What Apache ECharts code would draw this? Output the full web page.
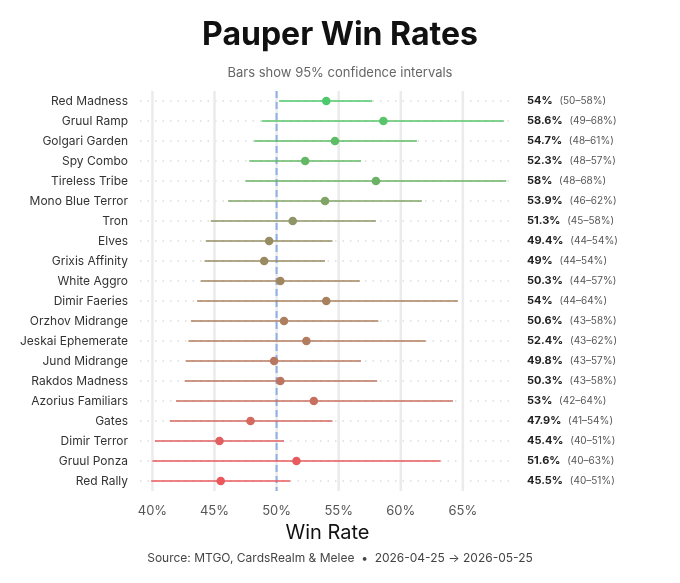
<!DOCTYPE html><html><head><meta charset="utf-8"><script src="https://cdn.jsdelivr.net/npm/echarts@6/dist/echarts.min.js"></script>
<style>html,body{margin:0;padding:0;background:#fff}#c{width:680px;height:583px}</style></head><body><div id="c"></div><script>
const archetypes=["Red Madness","Gruul Ramp","Golgari Garden","Spy Combo","Tireless Tribe","Mono Blue Terror","Tron","Elves","Grixis Affinity","White Aggro","Dimir Faeries","Orzhov Midrange","Jeskai Ephemerate","Jund Midrange","Rakdos Madness","Azorius Familiars","Gates","Dimir Terror","Gruul Ponza","Red Rally"];
const winRate=[54,58.6,54.7,52.3,58,53.9,51.3,49.4,49,50.3,54,50.6,52.4,49.8,50.3,53,47.9,45.4,51.6,45.5];
const ciLow=[50.2,48.8,48.2,47.8,47.5,46.1,44.7,44.3,44.2,43.9,43.6,43.1,42.9,42.7,42.6,41.9,41.4,40.2,40.0,39.9];
const ciHigh=[57.7,68.3,61.3,56.8,68.5,61.7,58.0,54.5,53.9,56.7,64.6,58.2,62.0,56.8,58.1,64.2,54.5,50.6,63.2,51.1];
const ciLabel=["50–58%","49–68%","48–61%","48–57%","48–68%","46–62%","45–58%","44–54%","44–54%","44–57%","44–64%","43–58%","43–62%","43–57%","43–58%","42–64%","41–54%","40–51%","40–63%","40–51%"];
const colors=["#4cc96c","#58c46b","#5dbd67","#63b866","#6ab264","#7fa466","#8f9566","#968d63","#9a8a62","#a2865f","#a8825f","#ad7f5f","#b27c5f","#b8785f","#bd755f","#c8705f","#d4695f","#e05f60","#e65b5e","#ea585c"];
const gridTicks=[40,45,50,55,60,65];
const XMIN=39,XMAX=69.2;
const chart=echarts.init(document.getElementById('c'));
const rightLabels=archetypes.map((a,i)=>'{b|'+winRate[i]+'%}  {n|('+ciLabel[i]+')}');
chart.setOption({
 textStyle:{fontFamily:'Inter'},
 title:[{text:'Pauper Win Rates',left:'center',top:14,textStyle:{fontFamily:'Inter',fontSize:32,fontWeight:'bold',color:'#111'}},
  {text:'Bars show 95% confidence intervals',left:'center',top:62,textStyle:{fontFamily:'Inter',fontSize:13,fontWeight:'normal',color:'#666'}},
  {text:'Source: MTGO, CardsRealm & Melee  •  2026-04-25 → 2026-05-25',left:'center',top:547,textStyle:{fontFamily:'Inter',fontSize:12,fontWeight:'normal',color:'#444'}}],
 grid:{left:140,right:165,top:91,bottom:92},
 xAxis:{type:'value',min:XMIN,max:XMAX,interval:1,splitLine:{show:false},axisLine:{show:false},axisTick:{show:false},
  axisLabel:{color:'#555',fontSize:13,margin:14,formatter:v=>v%5===0&&v<=65?v+'%':''},
  name:'Win Rate',nameLocation:'middle',nameGap:30,nameTextStyle:{fontSize:20,color:'#111'}},
 yAxis:[{type:'category',data:archetypes,inverse:true,axisLine:{show:false},axisTick:{show:false},axisLabel:{color:'#333',fontSize:12,margin:12}},
  {type:'category',data:rightLabels,inverse:true,position:'right',axisLine:{show:false},axisTick:{show:false},
   axisLabel:{align:'left',margin:12,rich:{b:{fontWeight:'bold',fontSize:11,color:'#222'},n:{fontSize:10,color:'#555'}}}}],
 series:[
  {type:'custom',silent:true,data:archetypes.map((a,i)=>[i]),z:1,renderItem:(p,api)=>{
    const i=api.value(0);const a=api.coord([XMIN,i]),b=api.coord([XMAX,i]);
    return {type:'line',shape:{x1:a[0],y1:a[1],x2:b[0],y2:b[1]},style:{stroke:'#c8c8c8',lineWidth:1,lineDash:[1.5,6]}};}},
  {type:'custom',silent:true,data:gridTicks.map(v=>[v]),z:2,renderItem:(p,api)=>{
    const v=api.value(0);const a=api.coord([v,0]);const top=p.coordSys.y,bot=p.coordSys.y+p.coordSys.height;
    return {type:'line',shape:{x1:a[0],y1:top,x2:a[0],y2:bot},style:{stroke:'#ebebeb',lineWidth:2.5}};}},
  {type:'custom',silent:true,data:[[50]],z:3,renderItem:(p,api)=>{
    const a=api.coord([api.value(0),0]);const top=p.coordSys.y,bot=p.coordSys.y+p.coordSys.height;
    return {type:'line',shape:{x1:a[0],y1:top,x2:a[0],y2:bot},style:{stroke:'#8fb0e6',lineWidth:2,lineDash:[7,4]}};}},
  {type:'custom',z:5,data:archetypes.map((a,i)=>[i,ciLow[i],ciHigh[i],winRate[i]]),renderItem:(p,api)=>{
    const i=api.value(0);const l=api.coord([api.value(1),i]),h=api.coord([api.value(2),i]),m=api.coord([api.value(3),i]);
    return {type:'group',children:[{type:'line',shape:{x1:l[0],y1:l[1],x2:h[0],y2:h[1]},style:{stroke:colors[i],lineWidth:1.6}},
      {type:'circle',shape:{cx:m[0],cy:m[1],r:4.3},style:{fill:colors[i]}}]};}}
 ]
});
</script></body></html>
